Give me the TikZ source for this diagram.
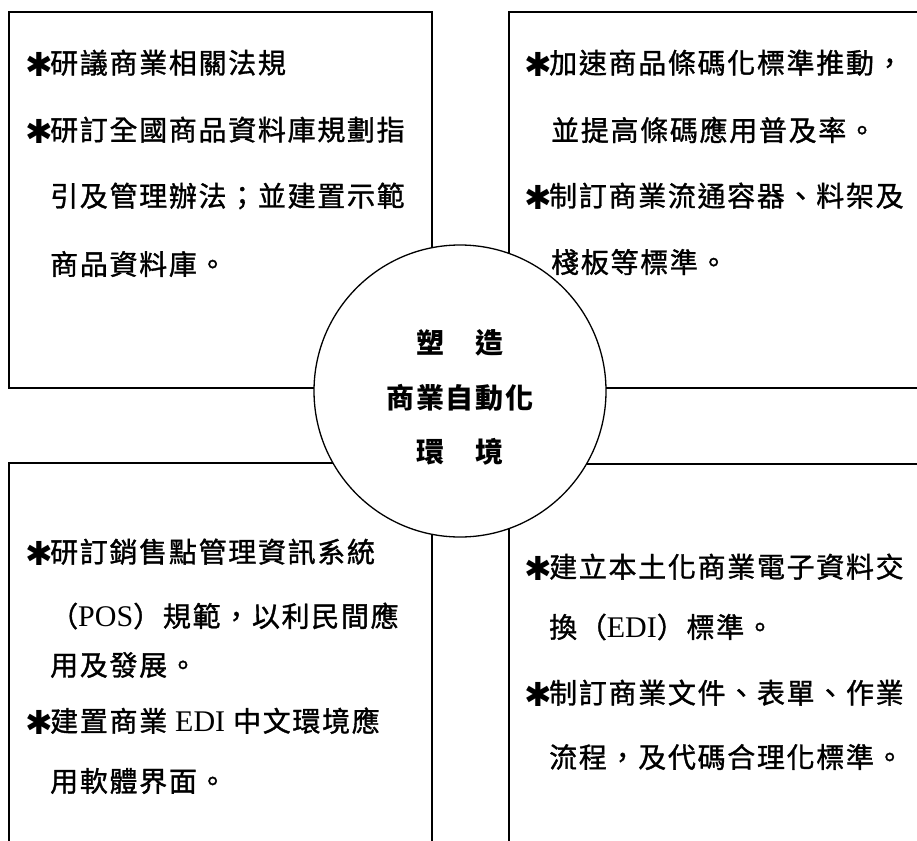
\documentclass[tikz,border=0pt]{standalone}
\usepackage{fontspec}
\newfontfamily\cjk[LetterSpace=6,FakeBold=1.2]{Noto Sans CJK TC}
\newfontfamily\cjkb[LetterSpace=6]{Noto Sans CJK TC}
\newfontfamily\ser{Liberation Serif}
\newfontfamily\dvs{DejaVu Sans}
\newcommand\starmark{\makebox[22pt][c]{\raisebox{-3pt}{\dvs\fontsize{33}{33}\selectfont ✱}}}
\newcommand\lat[1]{{\ser\fontsize{30}{30}\selectfont #1}}
\begin{document}
\begin{tikzpicture}[x=1pt,y=-1pt,
  box/.style={draw=black,line width=1.3pt},
  ln/.style={anchor=west,inner sep=0pt,font=\cjk\fontsize{28}{28}\selectfont},
  ctr/.style={inner sep=0pt,font=\cjkb\bfseries\fontsize{28}{28}\selectfont},
  hub/.style={circle,draw=black,line width=1.3pt,fill=white,minimum size=292pt,inner sep=0pt}]
\useasboundingbox (0,0) rectangle (917,840);
% boxes
\draw[box] (9,12) rectangle (432,388);
\draw[box] (930,12) -- (509,12) -- (509,388) -- (930,388);
\draw[box] (9,850) -- (9,463) -- (432,463) -- (432,850);
\draw[box] (930,464) -- (509,464) -- (509,850);
% hub
\node[hub] (hub) at (460,391) {};
\node[ctr] (c1) at (460,343) {塑　造};
\node[ctr] (c2) at (460,398) {商業自動化};
\node[ctr] (c3) at (460,452) {環　境};
% top-left
\node[ln] (tl1) at (28,63) {\starmark 研議商業相關法規};
\node[ln] (tl2) at (28,130) {\starmark 研訂全國商品資料庫規劃指};
\node[ln] (tl3) at (50,196) {引及管理辦法；並建置示範};
\node[ln] (tl4) at (50,264) {商品資料庫。};
% top-right
\node[ln] (tr1) at (527,63) {\starmark 加速商品條碼化標準推動，};
\node[ln] (tr2) at (551,130) {並提高條碼應用普及率。};
\node[ln] (tr3) at (527,196) {\starmark 制訂商業流通容器、料架及};
\node[ln] (tr4) at (551,262) {棧板等標準。};
% bottom-left
\node[ln] (bl1) at (28,552) {\starmark 研訂銷售點管理資訊系統};
\node[ln] (bl2) at (50,616) {（\lat{POS}）規範，以利民間應};
\node[ln] (bl3) at (50,665) {用及發展。};
\node[ln] (bl4) at (28,721) {\starmark 建置商業 \lat{EDI} 中文環境應};
\node[ln] (bl5) at (50,781) {用軟體界面。};
% bottom-right
\node[ln] (br1) at (527,567) {\starmark 建立本土化商業電子資料交};
\node[ln] (br2) at (549,627) {換（\lat{EDI}）標準。};
\node[ln] (br3) at (527,693) {\starmark 制訂商業文件、表單、作業};
\node[ln] (br4) at (549,757) {流程，及代碼合理化標準。};
\end{tikzpicture}
\end{document}
